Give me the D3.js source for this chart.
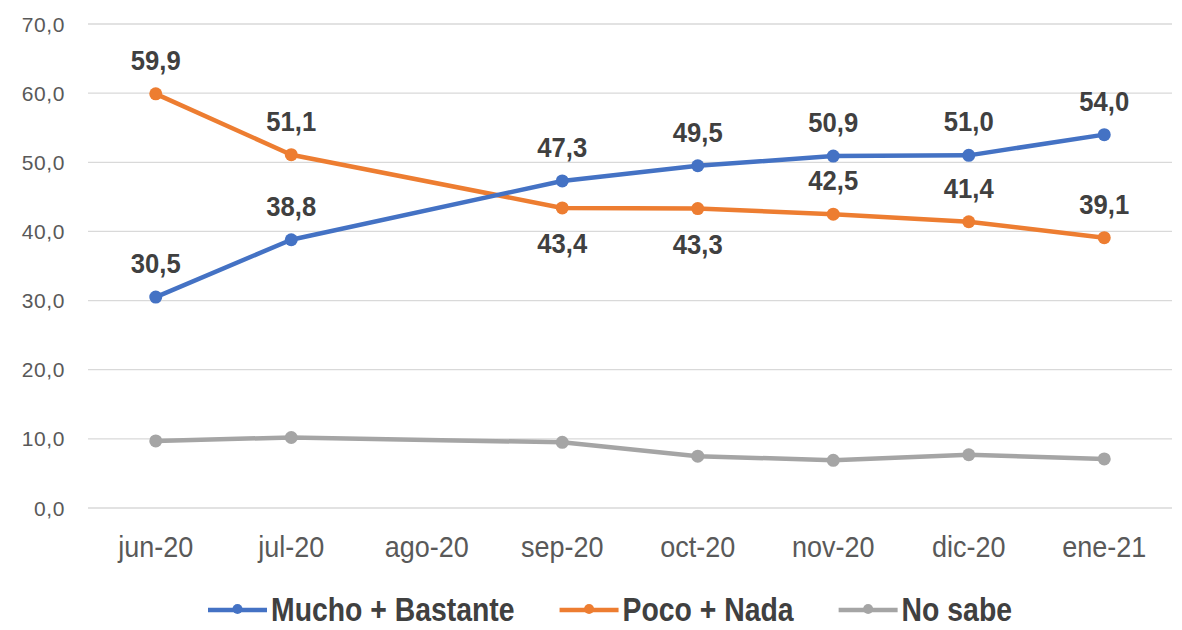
<!DOCTYPE html>
<html>
<head>
<meta charset="utf-8">
<script src="https://cdn.jsdelivr.net/npm/d3@7"></script>
<style>
  html, body { margin: 0; padding: 0; background: #ffffff; }
  svg { display: block; }
</style>
</head>
<body>
<svg id="chart" width="1182" height="630"></svg>
<script>
// ---- data ----
const categories = ["jun-20", "jul-20", "ago-20", "sep-20", "oct-20", "nov-20", "dic-20", "ene-21"];
const muchoBastante = [30.5, 38.8, null, 47.3, 49.5, 50.9, 51.0, 54.0];
const pocoNada      = [59.9, 51.1, null, 43.4, 43.3, 42.5, 41.4, 39.1];
const noSabe        = [9.7, 10.2, null, 9.5, 7.5, 6.9, 7.7, 7.1];
const seriesNames   = ["Mucho + Bastante", "Poco + Nada", "No sabe"];
const yTicks        = [0, 10, 20, 30, 40, 50, 60, 70];
// where each data label sits relative to its point (null = no label)
const muchoLabelSide = ["above", "above", null, "above", "above", "above", "above", "above"];
const pocoLabelSide  = ["above", "above", null, "below", "below", "above", "above", "above"];
const noSabeLabelSide = [null, null, null, null, null, null, null, null];

// ---- styling ----
const colors = ["#4472C4", "#ED7D31", "#A5A5A5"];
const svg = d3.select("#chart");
svg.append("rect").attr("width", 1182).attr("height", 630).attr("fill", "#fff");

const plotLeft = 88, plotRight = 1172, plotTop = 24, plotBottom = 508;

const x = d3.scaleBand().domain(categories).range([plotLeft, plotRight]).paddingInner(0).paddingOuter(0);
const xc = c => x(c) + x.bandwidth() / 2;
const y = d3.scaleLinear().domain([0, 70]).range([plotBottom, plotTop]);

// gridlines
svg.append("g").selectAll("line").data(yTicks).join("line")
  .attr("x1", plotLeft).attr("x2", plotRight)
  .attr("y1", d => y(d)).attr("y2", d => y(d))
  .attr("stroke", "#d9d9d9").attr("stroke-width", 1.3);

// y axis labels
const fmt = v => d3.format(".1f")(v).replace(".", ",");
const yAxis = d3.axisLeft(y).tickValues(yTicks).tickFormat(fmt).tickSize(0).tickPadding(0);
const yg = svg.append("g").attr("transform", `translate(${65},0)`).call(yAxis);
yg.select(".domain").remove();
yg.selectAll("text")
  .attr("font-family", "'Liberation Sans', Arial, sans-serif")
  .attr("font-size", 21).attr("fill", "#595959")
  .attr("letter-spacing", 0.6)
  .attr("dy", "0.34em");

// x axis labels (condensed look via horizontal scale)
const xAxis = d3.axisBottom(x).tickSize(0).tickPadding(0);
const xg = svg.append("g").attr("transform", `translate(0,${plotBottom})`).call(xAxis);
xg.select(".domain").remove();
xg.selectAll("text")
  .attr("font-family", "'Liberation Sans', Arial, sans-serif")
  .attr("font-size", 30).attr("fill", "#595959")
  .attr("y", 0).attr("dy", 0)
  .attr("transform", "translate(0,49) scale(0.9,1)");

// series
const allSeries = [muchoBastante, pocoNada, noSabe];
const allSides = [muchoLabelSide, pocoLabelSide, noSabeLabelSide];
const line = d3.line().x(d => xc(d.c)).y(d => y(d.v));

const order = [2, 1, 0];
order.forEach(i => {
  const pts = categories.map((c, j) => ({ c, v: allSeries[i][j], side: allSides[i][j] }))
    .filter(d => d.v != null);
  const g = svg.append("g");
  g.append("path").datum(pts).attr("d", line)
    .attr("fill", "none").attr("stroke", colors[i]).attr("stroke-width", 4.5)
    .attr("stroke-linejoin", "round").attr("stroke-linecap", "round");
  g.selectAll("circle").data(pts).join("circle")
    .attr("cx", d => xc(d.c)).attr("cy", d => y(d.v)).attr("r", 6.5)
    .attr("fill", colors[i]);
});

// data labels
[0, 1].forEach(i => {
  const pts = categories.map((c, j) => ({ c, v: allSeries[i][j], side: allSides[i][j] }))
    .filter(d => d.v != null && d.side);
  svg.append("g").selectAll("text").data(pts).join("text")
    .attr("transform", d => `translate(${xc(d.c)},${d.side === "above" ? y(d.v) - 24 : y(d.v) + 45}) scale(0.95,1)`)
    .attr("text-anchor", "middle")
    .attr("font-family", "'Liberation Sans', Arial, sans-serif")
    .attr("font-weight", "bold")
    .attr("font-size", 27).attr("fill", "#404040")
    .text(d => fmt(d.v));
});

// legend
const legY = 610, legTextY = 621, legSx = 0.86;
let lx = 208;
const leg = svg.append("g");
seriesNames.forEach((name, i) => {
  const g = leg.append("g");
  g.append("line").attr("x1", lx).attr("x2", lx + 59).attr("y1", legY).attr("y2", legY)
    .attr("stroke", colors[i]).attr("stroke-width", 4.5);
  g.append("circle").attr("cx", lx + 29.5).attr("cy", legY - 1).attr("r", 5).attr("fill", colors[i]);
  const t = g.append("text")
    .attr("transform", `translate(${lx + 63},${legTextY}) scale(${legSx},1)`)
    .attr("font-family", "'Liberation Sans', Arial, sans-serif")
    .attr("font-weight", "bold").attr("font-size", 33).attr("fill", "#404040")
    .text(name);
  lx = lx + 63 + t.node().getComputedTextLength() * legSx + 45;
});
</script>
</body>
</html>
